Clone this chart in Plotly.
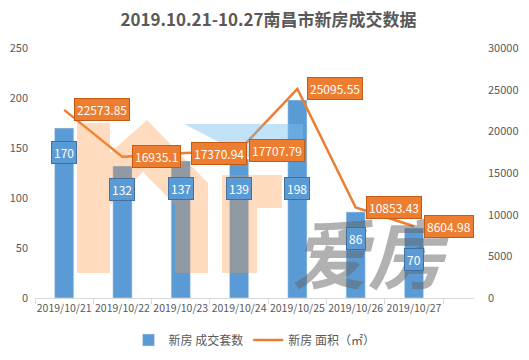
import plotly.graph_objects as go

dates = ["2019/10/21", "2019/10/22", "2019/10/23", "2019/10/24", "2019/10/25", "2019/10/26", "2019/10/27"]
units = [170, 132, 137, 139, 198, 86, 70]
area = [22573.85, 16935.1, 17370.94, 17707.79, 25095.55, 10853.43, 8604.98]
area_text = ["22573.85", "16935.1", "17370.94", "17707.79", "25095.55", "10853.43", "8604.98"]
# vertical positions (left-axis units) of the boxed bar labels
unit_label_y = [146, 109, 110, 110, 110, 60, 39]

BLUE = "#5B9BD5"
ORANGE = "#ED7D31"
TXT = "#595959"
FONT = "Noto Sans CJK SC, DejaVu Sans, sans-serif"

# page has an 8px body margin; size the figure so it fills the 529x360 window
OFF = 8
W, H = 529 - OFF, 360 - OFF
ML, MR, MT, MB = 35 - OFF, 55, 48 - OFF, 62
PW, PH = W - ML - MR, H - MT - MB


def px(x, y):
    """Page pixel position -> paper coords (for watermark decoration only)."""
    return (x - OFF - ML) / PW, (H + OFF - MB - y) / PH


def px_path(pts):
    s = []
    for i, (x, y) in enumerate(pts):
        a, b = px(x, y)
        s.append(("M" if i == 0 else "L") + f"{a:.4f},{b:.4f}")
    return " ".join(s) + " Z"


fig = go.Figure()
fig.add_trace(go.Bar(x=dates, y=units, name="新房 成交套数", marker_color=BLUE,
                     width=0.33, yaxis="y"))
fig.add_trace(go.Scatter(x=dates, y=area, name="新房 面积（㎡）", mode="lines",
                         line=dict(color=ORANGE, width=2.5), yaxis="y2"))

# faint logo watermark shapes
shapes = [
    dict(type="path", xref="paper", yref="paper", layer="above", line=dict(width=0),
         fillcolor="rgba(255,150,60,0.33)",
         path=px_path([(77, 273), (77, 123), (110, 123), (110, 153), (147, 120), (208, 183),
                       (208, 273), (175, 273), (175, 205), (143, 172), (110, 205), (110, 273)])),
    dict(type="path", xref="paper", yref="paper", layer="above", line=dict(width=0),
         fillcolor="rgba(255,150,60,0.33)",
         path=px_path([(222, 273), (222, 175), (282, 175), (282, 208), (257, 208), (257, 273)])),
    dict(type="path", xref="paper", yref="paper", layer="above", line=dict(width=0),
         fillcolor="rgba(120,190,240,0.45)",
         path=px_path([(184, 124), (303, 124), (303, 158), (250, 158)])),
]

ann = []
wx, wy = px(372, 250)
ann.append(dict(x=wx, y=wy, xref="paper", yref="paper", xanchor="center", yanchor="middle",
                text="<b><i>爱房</i></b>", showarrow=False,
                font=dict(color="rgba(100,100,100,0.5)", size=76, family=FONT)))
for d, v, ly in zip(dates, units, unit_label_y):
    ann.append(dict(x=d, y=ly, xref="x", yref="y", text=str(v), showarrow=False,
                    xanchor="center", yanchor="middle",
                    font=dict(color="white", size=12, family=FONT),
                    bgcolor=BLUE, bordercolor="#41719C", borderwidth=1, borderpad=2))
for d, v, t in zip(dates, area, area_text):
    ann.append(dict(x=d, y=v, xref="x", yref="y2", text=t, showarrow=False,
                    xanchor="left", yanchor="middle", xshift=10,
                    font=dict(color="white", size=12, family=FONT),
                    bgcolor=ORANGE, bordercolor="#C55A11", borderwidth=1, borderpad=2))

fig.update_layout(
    width=W, height=H,
    margin=dict(l=ML, r=MR, t=MT, b=MB, autoexpand=False),
    paper_bgcolor="white", plot_bgcolor="white",
    title=dict(text="<b>2019.10.21-10.27南昌市新房成交数据</b>", x=0.5, xanchor="center",
               y=1 - (20 - OFF) / H, yanchor="middle", font=dict(size=17, color=TXT, family=FONT)),
    font=dict(family=FONT, color=TXT, size=11),
    xaxis=dict(type="category", showline=True, linecolor="#D9D9D9", linewidth=1,
               ticks="outside", tickson="boundaries", ticklen=5, tickcolor="#D9D9D9",
               tickangle=0, tickfont=dict(size=10.5, color=TXT), showgrid=False),
    yaxis=dict(range=[0, 250], dtick=50, showgrid=False, zeroline=False,
               tickfont=dict(size=11, color=TXT), ticks="", ticklabelstandoff=6),
    yaxis2=dict(range=[0, 30000], dtick=5000, overlaying="y", side="right", showgrid=False,
                zeroline=False, tickformat="d", tickfont=dict(size=11, color=TXT),
                ticklabelstandoff=13),
    legend=dict(orientation="h", x=0.5, xanchor="center", yref="container",
                y=(360 - 340) / H, yanchor="middle", font=dict(size=12, color=TXT),
                traceorder="normal"),
    shapes=shapes,
    annotations=ann,
)

fig.write_html("out.html")
